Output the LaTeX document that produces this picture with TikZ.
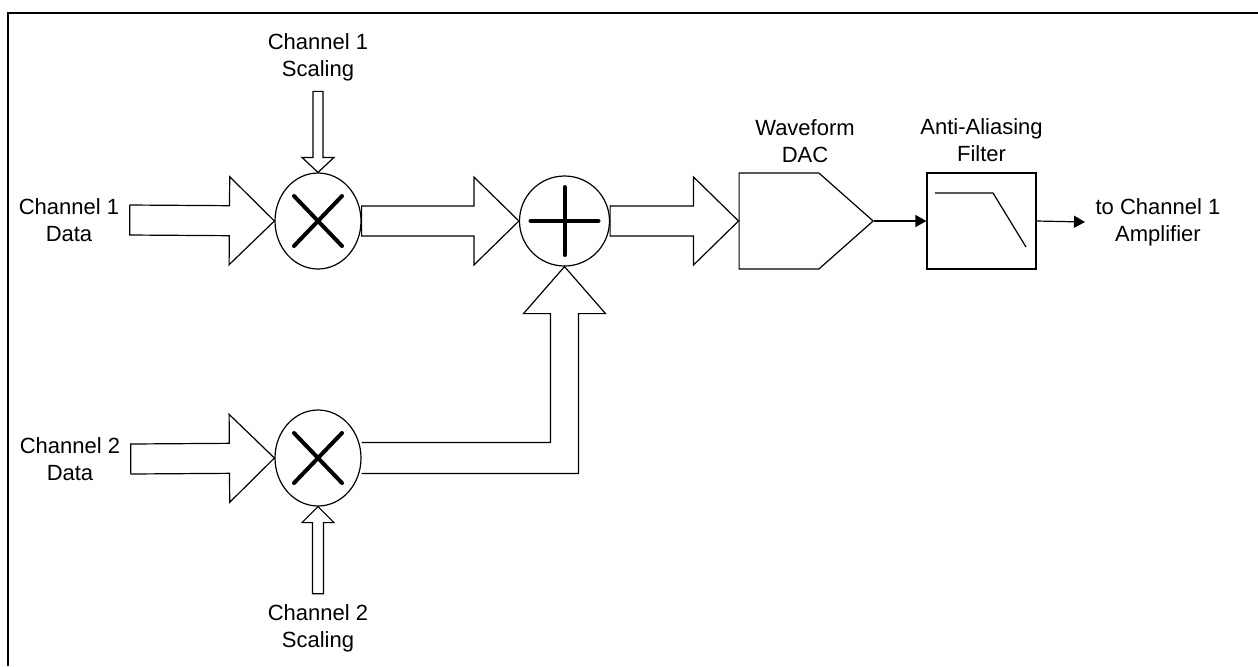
\documentclass[tikz,border=0pt]{standalone}
\usepackage{fontspec}
\setmainfont{Liberation Sans}
\usetikzlibrary{arrows.meta,positioning,calc,shapes.geometric,shapes.symbols}

% hollow block arrow: from, to, shaft half width, head half width, head length
\newcommand{\fatarrow}[5]{%
  \path ($(#2)!#5!(#1)$) coordinate (hb);
  \draw[blk] ($(#1)!#3!90:(#2)$) -- ($(hb)!#3!-90:(#1)$) -- ($(hb)!#4!-90:(#1)$) -- (#2)
    -- ($(hb)!#4!90:(#1)$) -- ($(hb)!#3!90:(#1)$) -- ($(#1)!#3!-90:(#2)$) -- cycle;}

\begin{document}
\begin{tikzpicture}[
  x=0.5pt,y=-0.5pt,
  font=\fontsize{11}{13.5}\selectfont,
  line width=0.6pt,
  lbl/.style={align=center,inner sep=5pt},
  mulnode/.style={draw,ellipse,inner sep=0pt,minimum width=43pt,minimum height=48pt},
  addnode/.style={draw,circle,inner sep=0pt,minimum size=45pt},
  dacnode/.style={draw,signal,signal to=east,signal pointer angle=83,inner sep=0pt,minimum width=67pt,minimum height=48pt},
  filtnode/.style={draw,rectangle,inner sep=0pt,minimum width=54.5pt,minimum height=48pt},
  blk/.style={line width=0.6pt},
  sym/.style={line width=2pt,line cap=round},
  ar/.style={-{Triangle[length=5.5pt,width=6pt]}},
  frame/.style={line width=1.4pt},
]
\useasboundingbox (0,0) rectangle (1258,666);
\draw[frame] (8,666) -- (8,13) -- (1258,13);

% blocks
\node[mulnode] (mul1) at (318,221) {};
\node[mulnode] (mul2) at (318,458) {};
\node[addnode] (add) at (564.5,221) {};
\node[dacnode] (dac) at (779,221) {};
\node[filtnode] (filt) at (981.5,221) {};

% labels
\node[lbl] (sc1) at (318,57) {Channel 1\\Scaling};
\node[lbl] (in1) at (69,220) {Channel 1\\Data};
\node[lbl] (in2) at (70,459) {Channel 2\\Data};
\node[lbl] (sc2) at (318,628) {Channel 2\\Scaling};
\node[lbl,anchor=south] (daclbl) at (805,173) {Waveform\\DAC};
\node[lbl,above=0pt of filt] (filtlbl) {Anti-Aliasing\\Filter};
\node[lbl] (out) at (1158,222) {to Channel 1\\Amplifier};

% operator symbols
\foreach \m in {mul1,mul2}
  \draw[sym] ($(\m)+(-24,-25)$) -- ($(\m)+(24,25)$) ($(\m)+(24,-25)$) -- ($(\m)+(-24,25)$);
\draw[sym] ($(add)+(-34,0)$) -- ($(add)+(34,0)$) ($(add)+(0,-34)$) -- ($(add)+(0,34)$);
\draw ($(filt)+(-46.5,-28)$) -- ++(58,0) -- ++(33,54);

% data paths
\fatarrow{in1.east}{mul1.west}{7.5pt}{22pt}{22.5pt}
\fatarrow{mul1.east}{add.west}{7.5pt}{22pt}{22.5pt}
\fatarrow{add.east}{dac.west}{7.5pt}{22pt}{22.5pt}
\fatarrow{in2.east}{mul2.west}{7.5pt}{22pt}{22.5pt}
\fatarrow{sc1.south}{mul1.north}{2.5pt}{8pt}{7.5pt}
\fatarrow{sc2.north}{mul2.south}{2.75pt}{8pt}{8pt}
\draw[blk] let \p1=(mul2.east), \p2=(add.south) in
  (\x1,\y1+7.75pt) -- (\x2-7pt,\y1+7.75pt) -- (\x2-7pt,\y2-23.5pt) -- (\x2-20.5pt,\y2-23.5pt)
  -- (\p2) -- (\x2+20.5pt,\y2-23.5pt) -- (\x2+7pt,\y2-23.5pt) -- (\x2+7pt,\y1-7.75pt) -- (\x1,\y1-7.75pt);

\draw[ar] (dac.east) -- (filt.west);
\draw[ar] (filt.east) -- (out.west);
\end{tikzpicture}
\end{document}
